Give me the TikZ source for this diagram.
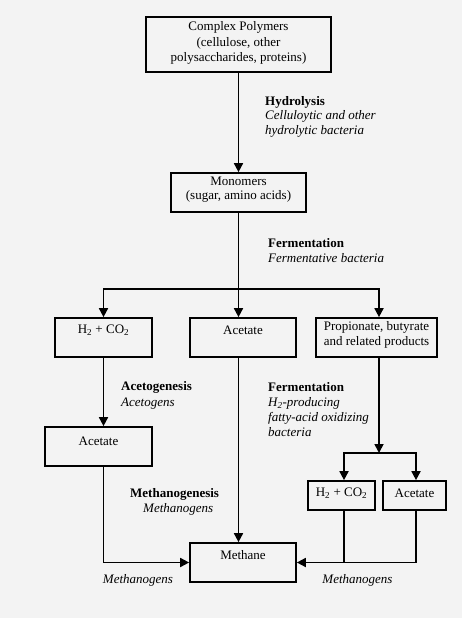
\documentclass[tikz,border=0pt]{standalone}
\usepackage{fontspec}
\setmainfont{Liberation Serif}
\usetikzlibrary{arrows.meta}
\definecolor{bg}{HTML}{F3F3F3}
\begin{document}
\begin{tikzpicture}[x=1pt,y=-1pt,
  box/.style={draw=black, line width=1.7pt, inner sep=0pt},
  txt/.style={inner sep=0pt, align=center, font=\fontsize{13}{15.5}\selectfont},
  lbl/.style={inner sep=0pt, align=left, anchor=west, font=\fontsize{13}{14.5}\selectfont},
  arr/.style={line width=1.7pt, -{Triangle[length=9pt,width=9pt]}},
  ln/.style={line width=1.7pt}]
\fill[bg] (0,0) rectangle (462,618);
\useasboundingbox (0,0) rectangle (462,618);
% boxes
\node[box, minimum width=185pt, minimum height=55pt] (poly) at (238.5,44.5) {};
\node[box, minimum width=135pt, minimum height=39pt] (mono) at (238.5,192.5) {};
\node[box, minimum width=97pt, minimum height=39pt] (h2) at (103.5,337.5) {};
\node[box, minimum width=106pt, minimum height=39pt] (acc) at (243,337.5) {};
\node[box, minimum width=121pt, minimum height=39pt] (prop) at (376.5,337.5) {};
\node[box, minimum width=107pt, minimum height=39pt] (acl) at (98.5,446.5) {};
\node[box, minimum width=67pt, minimum height=29pt] (sh2) at (341.5,495.5) {};
\node[box, minimum width=63pt, minimum height=29pt] (sac) at (414.5,495.5) {};
\node[box, minimum width=106pt, minimum height=39pt] (meth) at (243,562.5) {};
% box texts
\node[txt] (polyt) at (238.5,43) {Complex Polymers\\(cellulose, other\\polysaccharides, proteins)};
\node[txt, font=\fontsize{13}{14}\selectfont] (monot) at (238.5,189.5) {Monomers\\(sugar, amino acids)};
\node[txt] (h2t) at (103.5,330.5) {H\textsubscript{2} + CO\textsubscript{2}};
\node[txt] (acct) at (243,330.5) {Acetate};
\node[txt, font=\fontsize{13}{15}\selectfont] (propt) at (376.5,335) {Propionate, butyrate\\and related products};
\node[txt] (aclt) at (98.5,441.5) {Acetate};
\node[txt] (sh2t) at (341.5,493.5) {H\textsubscript{2} + CO\textsubscript{2}};
\node[txt] (sact) at (414.5,493.5) {Acetate};
\node[txt] (metht) at (243,555.5) {Methane};
% process labels
\node[lbl] (hyd) at (265,116.5) {\textbf{Hydrolysis}\\\textit{Celluloytic and other}\\\textit{hydrolytic bacteria}};
\node[lbl] (fer1) at (268,250.5) {\textbf{Fermentation}\\\textit{Fermentative bacteria}};
\node[lbl, font=\fontsize{13}{15.5}\selectfont] (acg) at (121,395.5) {\textbf{Acetogenesis}\\\textit{Acetogens}};
\node[lbl, font=\fontsize{13}{15}\selectfont] (fer2) at (268,410) {\textbf{Fermentation}\\\textit{H\textsubscript{2}-producing}\\\textit{fatty-acid oxidizing}\\\textit{bacteria}};
\node[lbl, font=\fontsize{13}{15}\selectfont] (mgen) at (130,502) {\textbf{Methanogenesis}\\\hspace*{13pt}\textit{Methanogens}};
\node[txt] (mgl) at (138,580.5) {\textit{Methanogens}};
\node[txt] (mgr) at (357.5,580.5) {\textit{Methanogens}};
% connectors
\coordinate (fork) at (238.5,289);
\coordinate (rfork) at (379,453);
\draw[arr] (poly.south) -- (mono.north);
\draw[ln] (mono.south) -- (fork);
\draw[arr] (fork) -- (fork |- acc.north);
\draw[arr] (fork) -| (h2.north);
\draw[arr] (fork) -| (rfork |- prop.north);
\draw[arr] (h2.south) -- (h2.south |- acl.north);
\draw[arr] (h2.south |- acl.south) |- (meth.west);
\draw[arr] (fork |- acc.south) -- (fork |- meth.north);
\draw[arr] (rfork |- prop.south) -- (rfork);
\draw[arr] (rfork) -| ([xshift=2.5pt]sh2.north);
\draw[arr] (rfork) -| ([xshift=1.5pt]sac.north);
\draw[ln] ([xshift=2.5pt]sh2.south) -- ([xshift=2.5pt]sh2.south |- meth.east);
\draw[arr] ([xshift=1.5pt]sac.south) |- (meth.east);
\end{tikzpicture}
\end{document}
